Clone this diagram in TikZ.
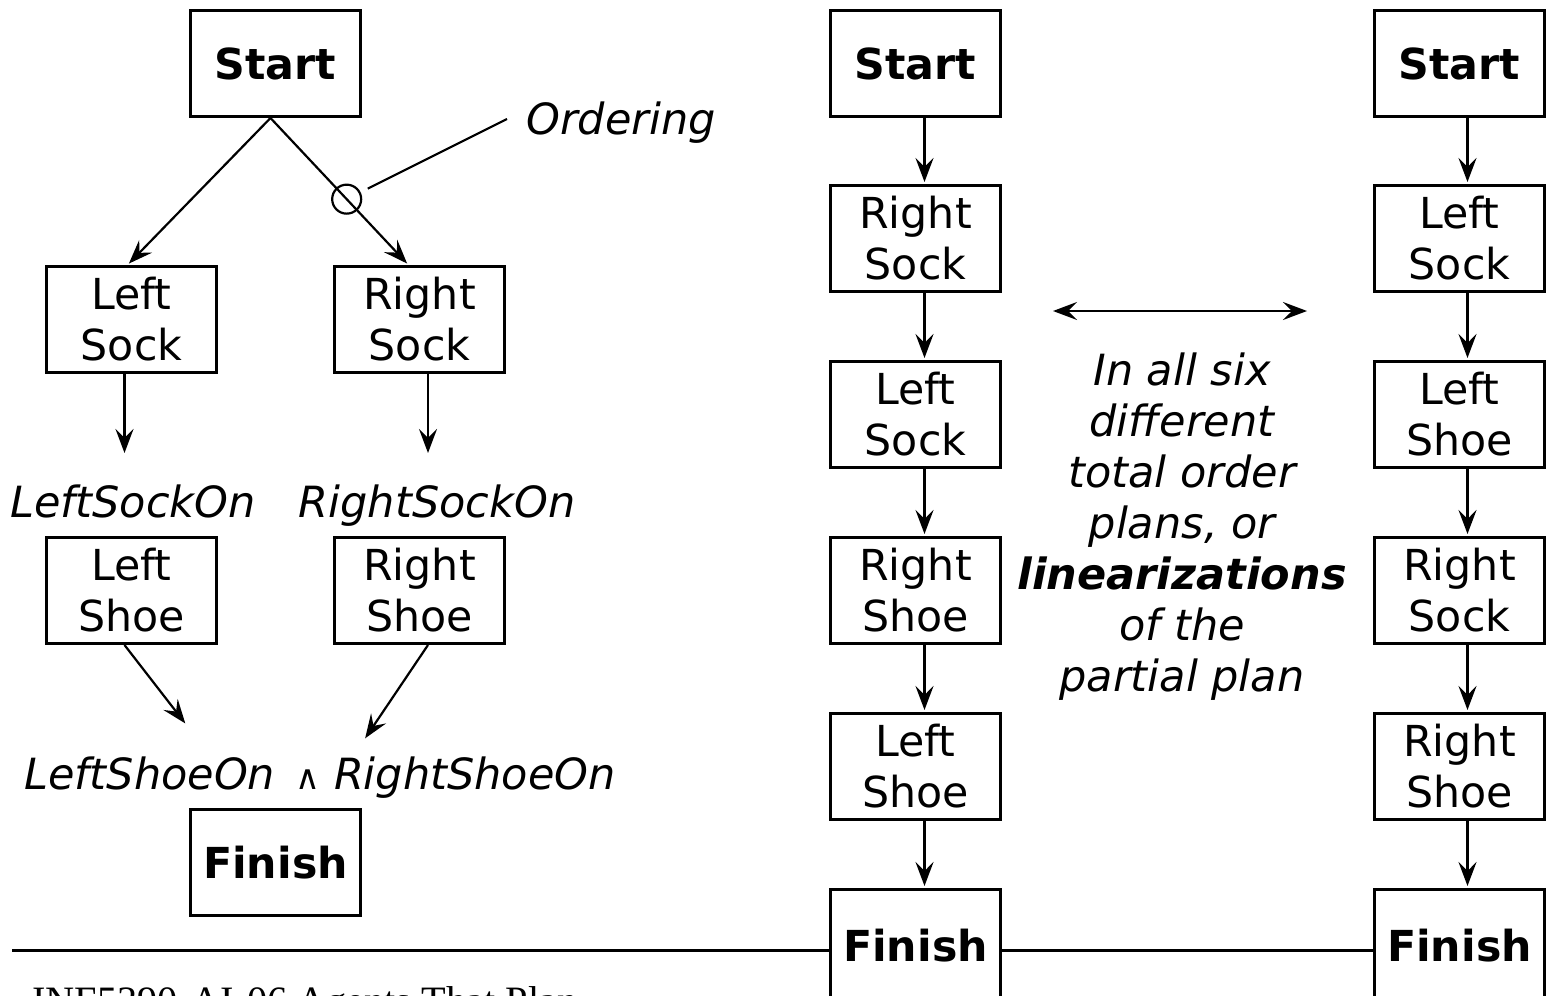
\documentclass[tikz,border=0pt]{standalone}
\usepackage{fontspec}
\setmainfont{DejaVu Sans}
\newfontfamily\footfont{Liberation Serif}
\usetikzlibrary{arrows.meta,calc}
\begin{document}
\begin{tikzpicture}[x=1pt,y=-1pt,
  box/.style={draw,line width=3pt,minimum width=170pt,minimum height=106pt,inner sep=0pt,align=center,font=\fontsize{42.7}{51}\selectfont},
  bbox/.style={box,font=\fontsize{42.7}{51}\selectfont\bfseries},
  fbox/.style={bbox,minimum height=118pt},
  arr/.style={line width=2.2pt,shorten >=2pt,-{Stealth[length=24pt,width=18pt,inset=9pt]}},
  darr/.style={line width=2.2pt,{Stealth[length=24pt,width=18pt,inset=9pt]}-{Stealth[length=24pt,width=18pt,inset=9pt]}},
  lab/.style={font=\fontsize{43}{51}\selectfont\itshape,inner sep=0pt},
  thin/.style={line width=2.2pt}]
\useasboundingbox (0,0) rectangle (1548,996);
\clip (0,0) rectangle (1548,996);
% left: partial-order plan
\node[bbox] (s1) at (275.5,63.5) {Start};
\node[box] (ls1) at (131.5,319.5) {Left\\Sock};
\node[box] (rs1) at (419.5,319.5) {Right\\Sock};
\node[box] (lsh1) at (131.5,590.5) {Left\\Shoe};
\node[box] (rsh1) at (419.5,590.5) {Right\\Shoe};
\node[bbox] (f1) at (275.5,862.5) {Finish};
\node[lab,anchor=base] (lso) at (133,517) {LeftSockOn};
\node[lab,anchor=base] (rso) at (437,517) {RightSockOn};
\node[lab,anchor=base] (both) at (320,789) {LeftShoeOn\hspace{20pt}{\upshape\fontsize{34}{34}\selectfont ∧}\hspace{14pt}RightShoeOn};
\node[lab,anchor=base west] (ordt) at (526,134) {Ordering};
\coordinate (ordend) at (507,119);
\draw[arr] ([xshift=-5pt]s1.south) -- ([xshift=-4pt]ls1.north);
\draw[arr] ([xshift=-5pt]s1.south) -- ([xshift=-11pt]rs1.north);
\node[draw,thin,circle,minimum size=29pt,inner sep=0pt] (ord) at ($([xshift=-5pt]s1.south)!0.552!([xshift=-11pt]rs1.north)$) {};
\draw[thin,shorten <=8pt] (ord) -- (ordend);
\draw[arr] ([xshift=-7pt]ls1.south) -- ++(0,81);
\draw[arr] ([xshift=8.5pt]rs1.south) -- ++(0,81);
\draw[arr] ([xshift=-7pt]lsh1.south) -- ++(62,80);
\draw[arr] ([xshift=8.5pt]rsh1.south) -- ++(-64,95);
% middle column
\node[bbox] (s2) at (915.5,63.5) {Start};
\node[box] (a2) at (915.5,238.5) {Right\\Sock};
\node[box] (b2) at (915.5,414.5) {Left\\Sock};
\node[box] (c2) at (915.5,590.5) {Right\\Shoe};
\node[box] (d2) at (915.5,766.5) {Left\\Shoe};
\node[fbox] (f2) at (915.5,948.5) {\raisebox{6pt}{Finish}};
\foreach \u/\v in {s2/a2,a2/b2,b2/c2,c2/d2,d2/f2}
  \draw[arr] ([xshift=9pt]\u.south) -- ([xshift=9pt]\v.north);
% right column
\node[bbox] (s3) at (1459.5,63.5) {Start};
\node[box] (a3) at (1459.5,238.5) {Left\\Sock};
\node[box] (b3) at (1459.5,414.5) {Left\\Shoe};
\node[box] (c3) at (1459.5,590.5) {Right\\Sock};
\node[box] (d3) at (1459.5,766.5) {Right\\Shoe};
\node[fbox] (f3) at (1459.5,948.5) {\raisebox{6pt}{Finish}};
\foreach \u/\v in {s3/a3,a3/b3,b3/c3,c3/d3,d3/f3}
  \draw[arr] ([xshift=8pt]\u.south) -- ([xshift=8pt]\v.north);
% centre text
\coordinate (dl) at (1053,311);
\coordinate (dr) at (1307,311);
\draw[darr] (dl) -- (dr);
\node[lab,align=center] (txt) at (1182,527) {In all six\\different\\total order\\plans, or\\{\bfseries linearizations}\\of the\\partial plan};
% footer
\coordinate (fl) at (12,950.5);
\draw[thin] (fl) -- (fl -| f2.west);
\draw[thin] (fl -| f2.east) -- (fl -| f3.west);
\node[anchor=base west,inner sep=0pt,font=\footfont\fontsize{40.3}{42}\selectfont] (foot) at (32,1014.5) {INF5390-AI-06 Agents That Plan};
\end{tikzpicture}
\end{document}
